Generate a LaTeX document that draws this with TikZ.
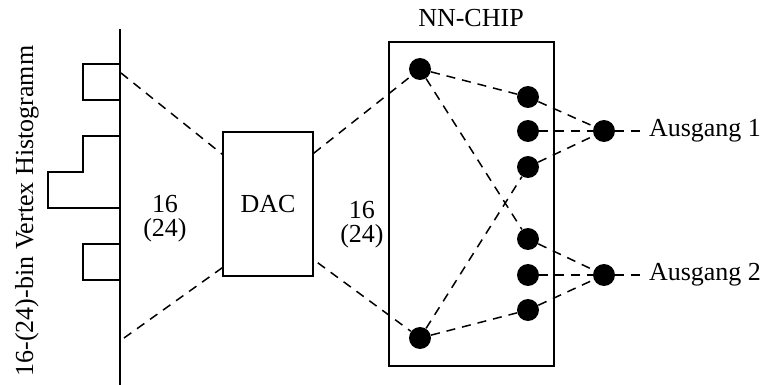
\documentclass[tikz,border=0pt]{standalone}
\usepackage{fontspec}
\setmainfont{Liberation Serif}
\usetikzlibrary{calc}

\begin{document}
\begin{tikzpicture}[x=0.5pt, y=-0.5pt, every node/.style={align=center, font=\fontsize{13}{15.6}\selectfont},
  neuron/.style={circle, fill=black, inner sep=0pt, minimum size=11pt},
  link/.style={line width=0.75pt, dash pattern=on 4.5pt off 3.5pt},
  box/.style={draw, line width=0.8pt}]
\useasboundingbox (0,0) rectangle (768,385);
% histogram
\draw[line width=1pt] (120,29) -- (120,385);
\draw[line width=0.8pt] (120,64) -- (83,64) -- (83,100) -- (120,100);
\draw[line width=0.8pt] (120,136) -- (83,136) -- (83,172) -- (48,172) -- (48,208) -- (120,208);
\draw[line width=0.8pt] (120,244) -- (83,244) -- (83,280) -- (120,280);
\node[rotate=90] (histlbl) at (27,211) {16-(24)-bin Vertex Histogramm};
\coordinate (hA) at (121,73);
\coordinate (hB) at (124,338);

\node[box, minimum width=45pt, minimum height=72pt] (dac) at (268,204) {DAC};
\node (nleft) at (165,219) {16\\[-3.5pt](24)};
\node (nright) at (362,225) {16\\[-3.5pt](24)};

% NN chip
\node[box, minimum width=82.5pt, minimum height=162pt] (chip) at (471.5,204) {};
\node (chiplbl) at (471,18) {NN-CHIP};
\node[neuron] (in1) at (420,69) {};
\node[neuron] (in2) at (420,338) {};
\foreach \y [count=\i] in {97,131,167,239,275,310}
  \node[neuron] (hid\i) at (528,\y) {};
\node[neuron] (out1) at (604,131) {};
\node[neuron] (out2) at (604,275) {};
\node[anchor=west] (aus1) at (642,131) {Ausgang 1};
\node[anchor=west] (aus2) at (642,275) {Ausgang 2};

\draw[link] (hA) -- ([yshift=-11.5pt]dac.north west);
\draw[link] (hB) -- ([yshift=4.5pt]dac.south west);
\draw[link] ([yshift=-11pt]dac.north east) -- (in1);
\draw[link] ([xshift=2pt,yshift=7pt]dac.south east) -- (in2);
\draw[link] (in1) -- (hid1);
\draw[link] (in1) -- (hid4);
\draw[link] (in2) -- (hid3);
\draw[link] (in2) -- (hid6);
\foreach \i in {1,2,3} \draw[link] (hid\i) -- (out1);
\foreach \i in {4,5,6} \draw[link] (hid\i) -- (out2);
\draw[link] (out1) -- (aus1);
\draw[link] (out2) -- (aus2);
\end{tikzpicture}
\end{document}
